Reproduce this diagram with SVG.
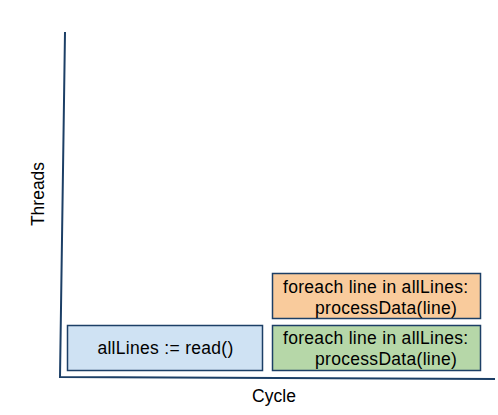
<svg xmlns="http://www.w3.org/2000/svg" width="498" height="415" viewBox="0 0 498 415">
<style>
text{font-family:"Liberation Sans",Arial,sans-serif;font-size:17.5px;fill:#000}
.box{stroke:#1c3f66;stroke-width:1.5}
.axis{stroke:#1c3f66;stroke-width:2;fill:none}
.t{letter-spacing:0.3px}
</style>
<rect width="498" height="415" fill="#fff"/>
<g id="connectors">
<path class="axis" d="M65,32 L60,377 L495,379"/>
</g>
<g id="read">
<rect class="box" x="67.5" y="325.5" width="195" height="45" fill="#cfe2f3"/>
<text class="t" x="165.5" y="354" text-anchor="middle">allLines := read()</text>
</g>
<g id="process1">
<rect class="box" x="272.5" y="273.5" width="208" height="45" fill="#f9cb9c"/>
<text class="t" x="283" y="292.5">foreach line in allLines:</text>
<text class="t" x="315" y="313.5">processData(line)</text>
</g>
<g id="process2">
<rect class="box" x="272.5" y="325.5" width="208" height="45" fill="#b6d7a8"/>
<text class="t" x="283" y="343.5">foreach line in allLines:</text>
<text class="t" x="315" y="365">processData(line)</text>
</g>
<g id="labels">
<text x="274" y="402" text-anchor="middle">Cycle</text>
<text transform="translate(44,194) rotate(-90)" text-anchor="middle">Threads</text>
</g>
</svg>
